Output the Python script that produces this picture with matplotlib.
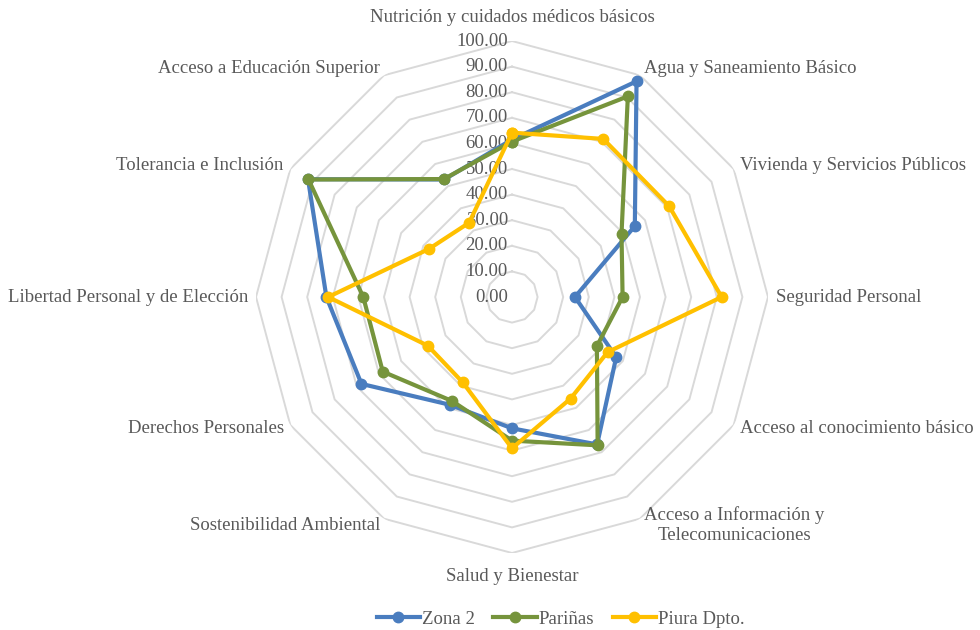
import numpy as np
import matplotlib
matplotlib.use('Agg')
import matplotlib.pyplot as plt

categories = [
    'Nutrición y cuidados médicos básicos',
    'Agua y Saneamiento Básico',
    'Vivienda y Servicios Públicos',
    'Seguridad Personal',
    'Acceso al conocimiento básico',
    'Acceso a Información y\nTelecomunicaciones',
    'Salud y Bienestar',
    'Sostenibilidad Ambiental',
    'Derechos Personales',
    'Libertad Personal y de Elección',
    'Tolerancia e Inclusión',
    'Acceso a Educación Superior',
]
zona2 = [61.5, 97.3, 55.4, 24.6, 47.0, 66.5, 51.3, 48.6, 67.9, 72.5, 92.0, 53.0]
parinas = [60.7, 90.5, 49.4, 43.2, 38.3, 66.9, 56.1, 46.9, 58.3, 58.1, 91.8, 53.2]
piura = [64.2, 71.3, 70.9, 81.9, 43.1, 45.8, 59.1, 38.5, 38.0, 71.8, 37.5, 33.5]
series_names = ['Zona 2', 'Pariñas', 'Piura Dpto.']
levels = list(range(0, 101, 10))

colors = ['#4A7DBF', '#76943C', '#FFC000']
text_color = '#595959'
grid_color = '#D9D9D9'

plt.rcParams['font.family'] = ['Liberation Serif', 'DejaVu Serif']

fig = plt.figure(figsize=(9.8, 6.3), dpi=100)
cx, cy, R = 512 / 980, 1 - 297 / 630, 256
ax = fig.add_axes([cx - R / 980, cy - R / 630, 2 * R / 980, 2 * R / 630], polar=True)
ax.set_theta_zero_location('N')
ax.set_theta_direction(-1)
ax.set_ylim(0, 100)
ax.grid(False)
ax.set_xticks([])
ax.set_yticks([])
ax.spines['polar'].set_visible(False)
ax.patch.set_alpha(0)

n = len(categories)
theta = np.linspace(0, 2 * np.pi, n, endpoint=False)
theta_closed = np.append(theta, theta[0])

# polygon gridlines
for lv in levels[1:]:
    ax.plot(theta_closed, [lv] * (n + 1), color=grid_color, lw=1.4, zorder=1)

for lv in levels:
    ax.annotate(f'{lv:.2f}', xy=(0, lv), xytext=(-3, 0), textcoords='offset points',
                ha='right', va='center', fontsize=13.5, color=text_color, zorder=2)

for vals, name, col in zip([zona2, parinas, piura], series_names, colors):
    ax.plot(theta_closed, vals + vals[:1], color=col, lw=3, marker='o', ms=7.5,
            label=name, zorder=3, clip_on=False)

for t, lab in zip(theta, categories):
    s = np.sin(t)
    if s > 0.01:
        ha = 'left'
    elif s < -0.01:
        ha = 'right'
    else:
        ha = 'center'
    r = 103 if abs(s) > 0.01 else 109
    ax.text(t, r, lab, ha=ha, va='center', multialignment='center',
            fontsize=13.5, color=text_color)

fig.legend(loc='center', bbox_to_anchor=(0.572, 1 - 619 / 630), ncol=3, frameon=False,
           fontsize=13.5, labelcolor=text_color, handlelength=2.3, columnspacing=1.0,
           handletextpad=0.1)

fig.savefig('out.png', dpi=100)
